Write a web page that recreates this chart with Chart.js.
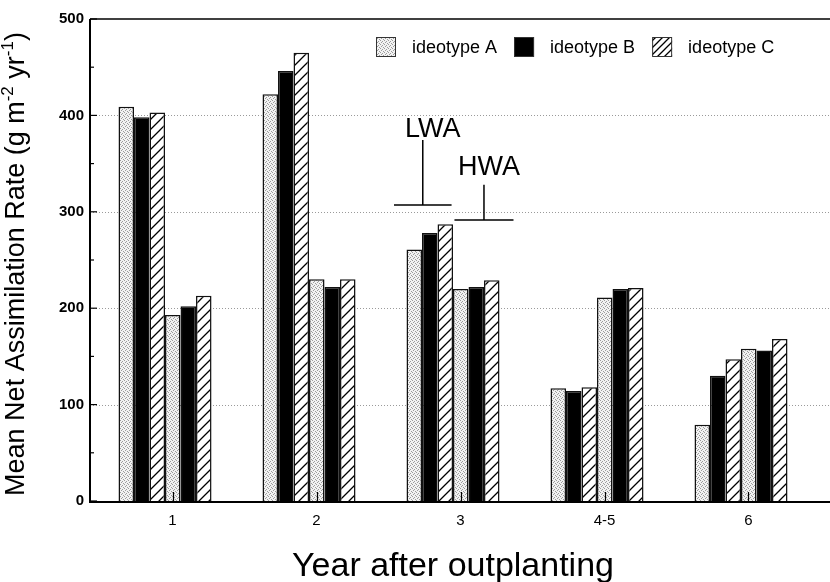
<!DOCTYPE html>
<html><head><meta charset="utf-8">
<script src="https://cdn.jsdelivr.net/npm/chart.js@4"></script>
<style>html,body{margin:0;padding:0;background:#fff}canvas{display:block}</style>
</head><body>
<canvas id="c" width="830" height="582"></canvas>
<script>
// ---------- data ----------
const CATEGORIES = ['1', '2', '3', '4-5', '6'];
const IDEOTYPES = ['ideotype A', 'ideotype B', 'ideotype C'];
const LWA_A = [409, 422, 261, 117, 79];
const LWA_B = [398, 446, 278, 114, 130];
const LWA_C = [403, 465, 287, 118, 147];
const HWA_A = [193, 230, 220, 211, 158];
const HWA_B = [202, 222, 222, 220, 156];
const HWA_C = [213, 230, 229, 221, 168];
const Y_TICKS = [0, 100, 200, 300, 400, 500];
const Y_MINOR = [50, 150, 250, 350, 450];
const X_TITLE = 'Year after outplanting';
const Y_TITLE = [['Mean Net Assimilation Rate (g m', 0], ['-2', 1], [' yr', 0], ['-1', 1], [')', 0]];
const GROUP_TAGS = ['LWA', 'HWA'];

// ---------- layout / style ----------
const FONT = '"Liberation Sans", Arial, Helvetica, sans-serif';
const X_MIN = 0.479, X_MAX = 5.618, LABEL_SHIFT = 0.052;
const BRACKETS = [
  {x: 2.79, y: 307, top: 374.5, half: 0.2, tx: 2.86, ty: 377.5},
  {x: 3.215, y: 291.5, top: 328, half: 0.205, tx: 3.25, ty: 338}
];

function makeStipple() {
  const c = document.createElement('canvas'); c.width = 4; c.height = 4;
  const g = c.getContext('2d');
  g.fillStyle = '#f2f2f2'; g.fillRect(0, 0, 4, 4);
  g.fillStyle = '#9c9c9c';
  [[0, 0], [2, 1], [1, 2], [3, 3]].forEach(p => g.fillRect(p[0], p[1], 1, 1));
  return g.createPattern(c, 'repeat');
}
function makeHatch(s) {
  const c = document.createElement('canvas'); c.width = s; c.height = s;
  const g = c.getContext('2d');
  g.fillStyle = '#fff'; g.fillRect(0, 0, s, s);
  g.strokeStyle = '#000'; g.lineWidth = 1.3;
  g.beginPath();
  g.moveTo(0, s); g.lineTo(s, 0);
  g.moveTo(-s / 2, s / 2); g.lineTo(s / 2, -s / 2);
  g.moveTo(s / 2, s * 1.5); g.lineTo(s * 1.5, s / 2);
  g.stroke();
  return g.createPattern(c, 'repeat');
}
const FILLS = [makeStipple(), '#000000', makeHatch(10)];
const LEGEND_FILLS = [makeStipple(), '#000000', makeHatch(7)];

const SERIES = [
  [LWA_A, 0], [LWA_B, 1], [LWA_C, 2],
  [HWA_A, 0], [HWA_B, 1], [HWA_C, 2]
];

const datasets = SERIES.map((s, k) => ({
  label: (k < 3 ? 'LWA ' : 'HWA ') + IDEOTYPES[s[1]],
  data: s[0].map((v, i) => ({x: i + 1, y: v})),
  backgroundColor: FILLS[s[1]],
  borderColor: '#111',
  borderWidth: 1.5,
  categoryPercentage: 0.646,
  barPercentage: 1.0
}));

const decor = {
  id: 'decor',
  beforeDatasetsDraw(chart) {
    const {ctx, chartArea: a, scales: {y}} = chart;
    ctx.save();
    ctx.strokeStyle = '#9a9a9a'; ctx.lineWidth = 1; ctx.setLineDash([1, 2]);
    Y_TICKS.filter(v => v > 0 && v < 500).forEach(v => {
      const py = Math.round(y.getPixelForValue(v)) + 0.5;
      ctx.beginPath(); ctx.moveTo(a.left, py); ctx.lineTo(a.right, py); ctx.stroke();
    });
    ctx.restore();
  },
  afterDatasetsDraw(chart) {
    const {ctx, chartArea: a, scales: {x, y}} = chart;
    ctx.save();
    ctx.strokeStyle = '#000';
    // axes frame
    ctx.lineWidth = 2;
    ctx.beginPath(); ctx.moveTo(a.left, a.top); ctx.lineTo(a.left, a.bottom + 1); ctx.lineTo(a.right, a.bottom + 1); ctx.stroke();
    ctx.lineWidth = 1.5;
    ctx.beginPath(); ctx.moveTo(a.left, a.top); ctx.lineTo(a.right, a.top); ctx.stroke();
    // inner y ticks
    ctx.lineWidth = 1.2;
    Y_TICKS.forEach(v => { const py = y.getPixelForValue(v); ctx.beginPath(); ctx.moveTo(a.left, py); ctx.lineTo(a.left + 7, py); ctx.stroke(); });
    Y_MINOR.forEach(v => { const py = y.getPixelForValue(v); ctx.beginPath(); ctx.moveTo(a.left, py); ctx.lineTo(a.left + 4, py); ctx.stroke(); });
    // inner x ticks
    x.ticks.forEach(t => { const px = Math.round(x.getPixelForValue(t.value)) + 0.5; ctx.beginPath(); ctx.moveTo(px, a.bottom); ctx.lineTo(px, a.bottom - 9); ctx.stroke(); });
    // brackets
    ctx.lineWidth = 1.5;
    ctx.fillStyle = '#000';
    ctx.font = '27px ' + FONT; ctx.textAlign = 'center'; ctx.textBaseline = 'alphabetic';
    BRACKETS.forEach((b, i) => {
      const px = x.getPixelForValue(b.x), py = y.getPixelForValue(b.y);
      ctx.beginPath();
      ctx.moveTo(x.getPixelForValue(b.x - b.half), py); ctx.lineTo(x.getPixelForValue(b.x + b.half), py);
      ctx.moveTo(px, py); ctx.lineTo(px, y.getPixelForValue(b.top));
      ctx.stroke();
      ctx.fillText(GROUP_TAGS[i], x.getPixelForValue(b.tx), y.getPixelForValue(b.ty));
    });
    // legend
    ctx.font = '18px ' + FONT; ctx.textAlign = 'left'; ctx.textBaseline = 'middle';
    let lx = a.left + 286; const ly = a.top + 18;
    IDEOTYPES.forEach((name, i) => {
      ctx.fillStyle = LEGEND_FILLS[i];
      ctx.fillRect(lx, ly, 20, 20);
      ctx.lineWidth = 1; ctx.strokeStyle = '#333';
      ctx.strokeRect(lx + 0.5, ly + 0.5, 19, 19);
      ctx.fillStyle = '#000';
      ctx.fillText(name, lx + 36, ly + 11);
      lx += 36 + ctx.measureText(name).width + 17;
    });
    ctx.restore();
  },
  afterDraw(chart) {
    const {ctx, chartArea: a} = chart;
    ctx.save();
    ctx.fillStyle = '#000';
    // x title
    ctx.font = '34px ' + FONT; ctx.textAlign = 'center'; ctx.textBaseline = 'alphabetic';
    ctx.fillText(X_TITLE, a.left + 363, 576);
    // y title with superscripts
    const big = '27px ' + FONT, small = '17px ' + FONT;
    let w = 0;
    Y_TITLE.forEach(p => { ctx.font = p[1] ? small : big; w += ctx.measureText(p[0]).width; });
    ctx.translate(24, 264); ctx.rotate(-Math.PI / 2);
    ctx.textAlign = 'left';
    let cx = -w / 2;
    Y_TITLE.forEach(p => {
      ctx.font = p[1] ? small : big;
      ctx.fillText(p[0], cx, p[1] ? -11 : 0);
      cx += ctx.measureText(p[0]).width;
    });
    ctx.restore();
  }
};

new Chart(document.getElementById('c'), {
  type: 'bar',
  data: {datasets},
  plugins: [decor],
  options: {
    responsive: false,
    animation: false,
    devicePixelRatio: 1,
    layout: {padding: {top: 19, right: 0, left: 0, bottom: 0}},
    plugins: {legend: {display: false}, tooltip: {enabled: false}},
    scales: {
      x: {
        type: 'linear', min: X_MIN, max: X_MAX, offset: false,
        grid: {display: false, drawTicks: false, offset: false},
        border: {display: false},
        afterBuildTicks: s => { s.ticks = CATEGORIES.map((c, i) => ({value: i + 1 + LABEL_SHIFT})); },
        ticks: {
          callback: (v, i) => CATEGORIES[i],
          font: {family: FONT, size: 15}, color: '#000', padding: 11,
          maxRotation: 0, autoSkip: false
        },
        afterFit: s => { s.height = 81; }
      },
      y: {
        min: 0, max: 500,
        grid: {display: false, drawTicks: false},
        border: {display: false},
        ticks: {stepSize: 100, font: {family: FONT, size: 15, weight: 'bold'}, color: '#000', padding: 6},
        afterFit: s => { s.width = 90; }
      }
    }
  }
});
</script>
</body></html>
